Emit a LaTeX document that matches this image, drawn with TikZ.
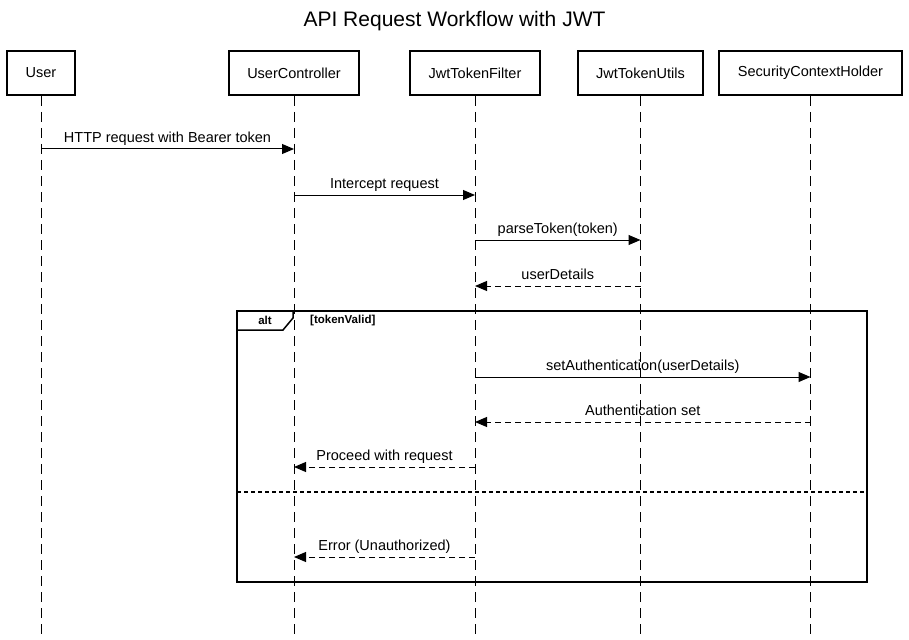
\documentclass[tikz,border=0pt]{standalone}
\usepackage{fontspec}
\setmainfont{Liberation Sans}
\usetikzlibrary{arrows.meta}
\newcommand{\lbl}{\fontsize{14.5}{17}\selectfont}
\newcommand{\smallbold}{\fontsize{11.5}{13}\selectfont\bfseries}
\begin{document}
\begin{tikzpicture}[x=1pt,y=-1pt,
  actor/.style={draw,line width=2pt,minimum width=#1,minimum height=44pt,inner sep=0pt,font=\lbl},
  life/.style={line width=1pt,dash pattern=on 10pt off 6pt},
  msg/.style={line width=1pt,-{Triangle[length=12pt,width=10pt]}},
  ret/.style={msg,dash pattern=on 6pt off 4pt},
  lab/.style={font=\lbl,inner sep=0pt,anchor=base},
  frame/.style={line width=2pt}
]
\useasboundingbox (0,0) rectangle (909,639);
\node[font=\fontsize{21}{25}\selectfont,anchor=base] (title) at (454.5,27) {API Request Workflow with JWT};

\node[actor=68pt] (user) at (41,73) {User};
\node[actor=130pt] (uc) at (294,73) {UserController};
\node[actor=130pt] (jtf) at (475,73) {JwtTokenFilter};
\node[actor=125pt] (jtu) at (640.5,73) {JwtTokenUtils};
\node[actor=183pt] (sch) at (810.5,73) {SecurityContextHolder};

% lifeline ends
\coordinate (userE) at (41,639);
\coordinate (ucE) at (294,639);
\coordinate (jtfE) at (475,639);
\coordinate (jtuE) at (640.5,639);
\coordinate (schE) at (810.5,639);
\draw[life] (user.south) -- (userE);
\draw[life] (uc.south) -- (ucE);
\draw[life] (jtf.south) -- (jtfE);
\draw[life] (jtu.south) -- (jtuE);
\draw[life] (sch.south) -- (schE);

% message points
\coordinate (m1a) at (41,149);  \coordinate (m1b) at (294,149);
\coordinate (m2a) at (294,195); \coordinate (m2b) at (475,195);
\coordinate (m3a) at (475,240); \coordinate (m3b) at (640.5,240);
\coordinate (m4a) at (640.5,286); \coordinate (m4b) at (475,286);
\coordinate (m5a) at (475,377); \coordinate (m5b) at (810.5,377);
\coordinate (m6a) at (810.5,422); \coordinate (m6b) at (475,422);
\coordinate (m7a) at (475,467); \coordinate (m7b) at (294,467);
\coordinate (m8a) at (475,557); \coordinate (m8b) at (294,557);

\draw[msg] (m1a) -- (m1b);
\node[lab] (l1) at (167.5,142.5) {HTTP request with Bearer token};
\draw[msg] (m2a) -- (m2b);
\node[lab] (l2) at (384.5,188.5) {Intercept request};
\draw[msg] (m3a) -- (m3b);
\node[lab] (l3) at (557.75,233.5) {parseToken(token)};
\draw[ret] (m4a) -- (m4b);
\node[lab] (l4) at (557.75,279.5) {userDetails};

% alt frame
\coordinate (fTL) at (237,311);
\coordinate (fBR) at (867,582);
\draw[frame] (fTL) rectangle (fBR);
\draw[line width=1.5pt] (237,330) -- (283,330) -- (293,318) -- (293,311);
\node[font=\smallbold,inner sep=0pt] (alt) at (265,320.5) {alt};
\node[font=\smallbold,inner sep=0pt,anchor=west] (guard) at (310,320.5) {[tokenValid]};

\draw[msg] (m5a) -- (m5b);
\node[lab] (l5) at (642.75,370.5) {setAuthentication(userDetails)};
\draw[ret] (m6a) -- (m6b);
\node[lab] (l6) at (642.75,415.5) {Authentication set};
\draw[ret] (m7a) -- (m7b);
\node[lab] (l7) at (384.5,460.5) {Proceed with request};

\coordinate (sepL) at (237,492);
\coordinate (sepR) at (867,492);
\draw[line width=2pt,dash pattern=on 4pt off 3pt] (sepL) -- (sepR);

\draw[ret] (m8a) -- (m8b);
\node[lab] (l8) at (384.5,550.5) {Error (Unauthorized)};
\end{tikzpicture}
\end{document}
